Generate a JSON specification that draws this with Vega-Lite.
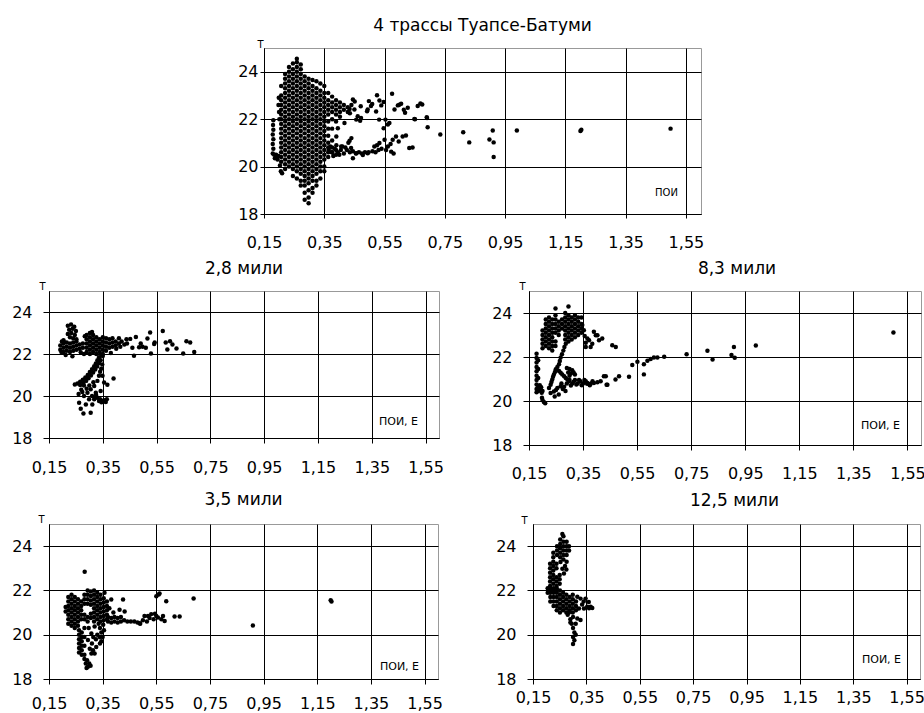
{
"$schema": "https://vega.github.io/schema/vega-lite/v6.json",
"padding": {"left": 11, "top": 16, "right": 0, "bottom": 0},
"background": "white",
"config": {
 "font": "DejaVu Sans",
 "view": {"stroke": "#999999", "strokeWidth": 1},
 "axis": {"labelFont": "DejaVu Sans", "labelFontSize": 16, "labelColor": "#000", "grid": true, "gridColor": "#000", "gridWidth": 1, "domainColor": "#000", "tickColor": "#000", "titleFont": "DejaVu Sans", "titleFontWeight": "normal", "titleColor": "#000", "labelOverlap": false, "labelFlush": false},
 "title": {"font": "DejaVu Sans", "fontSize": 17, "fontWeight": "normal", "color": "#000", "anchor": "middle", "baseline": "alphabetic", "offset": 3},
 "circle": {"size": 20, "color": "#000", "opacity": 1}
},
"datasets": {
"top": [
{"x":0.179,"y":20.55},{"x":0.181,"y":20.75},{"x":0.179,"y":20.95},{"x":0.181,"y":21.15},{"x":0.179,"y":21.35},{"x":0.181,"y":21.55},{"x":0.18,"y":21.75},{"x":0.181,"y":21.95},
{"x":0.186,"y":20.35},{"x":0.19,"y":20.5},{"x":0.195,"y":20.3},{"x":0.192,"y":20.42},{"x":0.198,"y":20.45},{"x":0.184,"y":20.5},
{"x":0.203,"y":20.05},{"x":0.206,"y":19.8},{"x":0.21,"y":19.72},{"x":0.199,"y":22.9},{"x":0.198,"y":22.6},{"x":0.2,"y":22.3},{"x":0.201,"y":22.0},
{"x":0.207,"y":23.4},{"x":0.207,"y":23.0},{"x":0.207,"y":22.8},{"x":0.207,"y":22.6},{"x":0.207,"y":22.4},{"x":0.207,"y":22.2},{"x":0.207,"y":22.0},{"x":0.207,"y":21.8},{"x":0.207,"y":21.6},{"x":0.207,"y":21.4},{"x":0.207,"y":21.2},{"x":0.207,"y":21.0},{"x":0.207,"y":20.8},{"x":0.207,"y":20.6},{"x":0.207,"y":20.4},{"x":0.207,"y":20.2},
{"x":0.22,"y":23.9},{"x":0.22,"y":23.7},{"x":0.22,"y":23.5},{"x":0.22,"y":23.3},{"x":0.22,"y":23.1},{"x":0.22,"y":22.9},{"x":0.22,"y":22.7},{"x":0.22,"y":22.5},{"x":0.22,"y":22.3},{"x":0.22,"y":22.1},{"x":0.22,"y":21.9},{"x":0.22,"y":21.7},{"x":0.22,"y":21.5},{"x":0.22,"y":21.3},{"x":0.22,"y":21.1},{"x":0.22,"y":20.9},{"x":0.22,"y":20.7},{"x":0.22,"y":20.5},{"x":0.22,"y":20.3},{"x":0.22,"y":20.1},{"x":0.22,"y":19.9},
{"x":0.233,"y":24.2},{"x":0.233,"y":24.0},{"x":0.233,"y":23.8},{"x":0.233,"y":23.6},{"x":0.233,"y":23.4},{"x":0.233,"y":23.2},{"x":0.233,"y":23.0},{"x":0.233,"y":22.8},{"x":0.233,"y":22.6},{"x":0.233,"y":22.4},{"x":0.233,"y":22.2},{"x":0.233,"y":22.0},{"x":0.233,"y":21.8},{"x":0.233,"y":21.6},{"x":0.233,"y":21.4},{"x":0.233,"y":21.2},{"x":0.233,"y":21.0},{"x":0.233,"y":20.8},{"x":0.233,"y":20.6},{"x":0.233,"y":20.4},{"x":0.233,"y":20.2},{"x":0.233,"y":20.0},
{"x":0.246,"y":24.35},{"x":0.246,"y":24.1},{"x":0.246,"y":23.9},{"x":0.246,"y":23.7},{"x":0.246,"y":23.5},{"x":0.246,"y":23.3},{"x":0.246,"y":23.1},{"x":0.246,"y":22.9},{"x":0.246,"y":22.7},{"x":0.246,"y":22.5},{"x":0.246,"y":22.3},{"x":0.246,"y":22.1},{"x":0.246,"y":21.9},{"x":0.246,"y":21.7},{"x":0.246,"y":21.5},{"x":0.246,"y":21.3},{"x":0.246,"y":21.1},{"x":0.246,"y":20.9},{"x":0.246,"y":20.7},{"x":0.246,"y":20.5},{"x":0.246,"y":20.3},{"x":0.246,"y":20.1},{"x":0.246,"y":19.9},{"x":0.246,"y":19.6},
{"x":0.259,"y":24.55},{"x":0.259,"y":24.4},{"x":0.259,"y":24.2},{"x":0.259,"y":24.0},{"x":0.259,"y":23.8},{"x":0.259,"y":23.6},{"x":0.259,"y":23.4},{"x":0.259,"y":23.2},{"x":0.259,"y":23.0},{"x":0.259,"y":22.8},{"x":0.259,"y":22.6},{"x":0.259,"y":22.4},{"x":0.259,"y":22.2},{"x":0.259,"y":22.0},{"x":0.259,"y":21.8},{"x":0.259,"y":21.6},{"x":0.259,"y":21.4},{"x":0.259,"y":21.2},{"x":0.259,"y":21.0},{"x":0.259,"y":20.8},{"x":0.259,"y":20.6},{"x":0.259,"y":20.4},{"x":0.259,"y":20.2},{"x":0.259,"y":20.0},{"x":0.259,"y":19.8},{"x":0.259,"y":19.5},
{"x":0.272,"y":24.3},{"x":0.272,"y":24.1},{"x":0.272,"y":23.9},{"x":0.272,"y":23.7},{"x":0.272,"y":23.5},{"x":0.272,"y":23.3},{"x":0.272,"y":23.1},{"x":0.272,"y":22.9},{"x":0.272,"y":22.7},{"x":0.272,"y":22.5},{"x":0.272,"y":22.3},{"x":0.272,"y":22.1},{"x":0.272,"y":21.9},{"x":0.272,"y":21.7},{"x":0.272,"y":21.5},{"x":0.272,"y":21.3},{"x":0.272,"y":21.1},{"x":0.272,"y":20.9},{"x":0.272,"y":20.7},{"x":0.272,"y":20.5},{"x":0.272,"y":20.3},{"x":0.272,"y":20.1},{"x":0.272,"y":19.9},{"x":0.272,"y":19.7},{"x":0.272,"y":19.4},{"x":0.272,"y":19.2},
{"x":0.285,"y":23.8},{"x":0.285,"y":23.6},{"x":0.285,"y":23.4},{"x":0.285,"y":23.2},{"x":0.285,"y":23.0},{"x":0.285,"y":22.8},{"x":0.285,"y":22.6},{"x":0.285,"y":22.4},{"x":0.285,"y":22.2},{"x":0.285,"y":22.0},{"x":0.285,"y":21.8},{"x":0.285,"y":21.6},{"x":0.285,"y":21.4},{"x":0.285,"y":21.2},{"x":0.285,"y":21.0},{"x":0.285,"y":20.8},{"x":0.285,"y":20.6},{"x":0.285,"y":20.4},{"x":0.285,"y":20.2},{"x":0.285,"y":20.0},{"x":0.285,"y":19.8},{"x":0.285,"y":19.6},{"x":0.285,"y":19.4},{"x":0.285,"y":19.2},{"x":0.285,"y":18.9},{"x":0.285,"y":18.6},
{"x":0.298,"y":23.7},{"x":0.298,"y":23.5},{"x":0.298,"y":23.3},{"x":0.298,"y":23.1},{"x":0.298,"y":22.9},{"x":0.298,"y":22.7},{"x":0.298,"y":22.5},{"x":0.298,"y":22.3},{"x":0.298,"y":22.1},{"x":0.298,"y":21.9},{"x":0.298,"y":21.7},{"x":0.298,"y":21.5},{"x":0.298,"y":21.3},{"x":0.298,"y":21.1},{"x":0.298,"y":20.9},{"x":0.298,"y":20.7},{"x":0.298,"y":20.5},{"x":0.298,"y":20.3},{"x":0.298,"y":20.1},{"x":0.298,"y":19.9},{"x":0.298,"y":19.7},{"x":0.298,"y":19.5},{"x":0.298,"y":19.3},{"x":0.298,"y":19.0},{"x":0.298,"y":18.7},{"x":0.298,"y":18.45},
{"x":0.311,"y":23.65},{"x":0.311,"y":23.4},{"x":0.311,"y":23.2},{"x":0.311,"y":23.0},{"x":0.311,"y":22.8},{"x":0.311,"y":22.6},{"x":0.311,"y":22.4},{"x":0.311,"y":22.2},{"x":0.311,"y":22.0},{"x":0.311,"y":21.8},{"x":0.311,"y":21.6},{"x":0.311,"y":21.4},{"x":0.311,"y":21.2},{"x":0.311,"y":21.0},{"x":0.311,"y":20.8},{"x":0.311,"y":20.6},{"x":0.311,"y":20.4},{"x":0.311,"y":20.2},{"x":0.311,"y":20.0},{"x":0.311,"y":19.8},{"x":0.311,"y":19.6},{"x":0.311,"y":19.4},{"x":0.311,"y":19.1},{"x":0.311,"y":18.9},
{"x":0.324,"y":23.6},{"x":0.324,"y":23.3},{"x":0.324,"y":23.1},{"x":0.324,"y":22.9},{"x":0.324,"y":22.7},{"x":0.324,"y":22.5},{"x":0.324,"y":22.3},{"x":0.324,"y":22.1},{"x":0.324,"y":21.9},{"x":0.324,"y":21.7},{"x":0.324,"y":21.5},{"x":0.324,"y":21.3},{"x":0.324,"y":21.1},{"x":0.324,"y":20.9},{"x":0.324,"y":20.7},{"x":0.324,"y":20.5},{"x":0.324,"y":20.3},{"x":0.324,"y":20.1},{"x":0.324,"y":19.9},{"x":0.324,"y":19.7},{"x":0.324,"y":19.4},{"x":0.324,"y":19.2},
{"x":0.337,"y":23.5},{"x":0.337,"y":23.2},{"x":0.337,"y":23.0},{"x":0.337,"y":22.8},{"x":0.337,"y":22.6},{"x":0.337,"y":22.4},{"x":0.337,"y":22.2},{"x":0.337,"y":22.0},{"x":0.337,"y":21.8},{"x":0.337,"y":21.6},{"x":0.337,"y":21.4},{"x":0.337,"y":21.2},{"x":0.337,"y":21.0},{"x":0.337,"y":20.8},{"x":0.337,"y":20.6},{"x":0.337,"y":20.4},{"x":0.337,"y":20.2},{"x":0.337,"y":20.0},{"x":0.337,"y":19.8},{"x":0.337,"y":19.5},
{"x":0.35,"y":23.4},{"x":0.35,"y":23.1},{"x":0.35,"y":22.9},{"x":0.35,"y":22.7},{"x":0.35,"y":22.5},{"x":0.35,"y":22.3},{"x":0.35,"y":22.1},{"x":0.35,"y":21.9},{"x":0.35,"y":21.7},{"x":0.35,"y":21.5},{"x":0.35,"y":21.3},{"x":0.35,"y":21.1},{"x":0.35,"y":20.9},{"x":0.35,"y":20.7},{"x":0.35,"y":20.5},{"x":0.35,"y":20.3},{"x":0.35,"y":20.0},{"x":0.35,"y":19.8},
{"x":0.363,"y":23.1},{"x":0.363,"y":22.8},{"x":0.363,"y":22.6},{"x":0.363,"y":22.4},{"x":0.363,"y":22.2},{"x":0.363,"y":21.9},{"x":0.363,"y":21.6},{"x":0.363,"y":21.3},{"x":0.363,"y":21.0},{"x":0.363,"y":20.8},{"x":0.363,"y":20.6},{"x":0.363,"y":20.4},
{"x":0.376,"y":22.95},{"x":0.376,"y":22.7},{"x":0.376,"y":22.5},{"x":0.376,"y":22.3},{"x":0.376,"y":22.0},{"x":0.376,"y":21.6},{"x":0.376,"y":21.1},{"x":0.376,"y":20.8},{"x":0.376,"y":20.6},
{"x":0.389,"y":22.8},{"x":0.389,"y":22.6},{"x":0.389,"y":22.4},{"x":0.389,"y":22.2},{"x":0.389,"y":21.9},{"x":0.389,"y":20.7},{"x":0.389,"y":20.5},
{"x":0.402,"y":22.7},{"x":0.402,"y":22.5},{"x":0.402,"y":22.3},{"x":0.402,"y":22.1},{"x":0.415,"y":22.6},{"x":0.415,"y":22.4},{"x":0.428,"y":22.5},{"x":0.428,"y":22.3},{"x":0.44,"y":22.6},{"x":0.435,"y":22.25},
{"x":0.445,"y":22.83},{"x":0.45,"y":22.41},{"x":0.461,"y":22.12},{"x":0.472,"y":22.05},{"x":0.494,"y":22.41},{"x":0.498,"y":22.76},{"x":0.505,"y":22.55},{"x":0.525,"y":23.01},{"x":0.533,"y":22.79},{"x":0.539,"y":22.58},{"x":0.547,"y":22.72},{"x":0.553,"y":21.98},{"x":0.575,"y":23.07},{"x":0.583,"y":22.41},{"x":0.594,"y":22.58},{"x":0.605,"y":22.65},{"x":0.618,"y":22.27},{"x":0.627,"y":22.48},{"x":0.649,"y":22.01},{"x":0.66,"y":22.55},{"x":0.669,"y":22.66},{"x":0.675,"y":22.62},{"x":0.691,"y":22.05},{"x":0.693,"y":21.66},{"x":0.735,"y":21.35},{"x":0.811,"y":21.45},{"x":0.831,"y":21.02},{"x":0.898,"y":21.14},{"x":0.909,"y":21.52},{"x":0.912,"y":21.02},{"x":0.912,"y":20.4},{"x":0.989,"y":21.52},{"x":1.2,"y":21.5},{"x":1.203,"y":21.55},{"x":1.499,"y":21.6},
{"x":0.451,"y":22.74},{"x":0.434,"y":22.43},{"x":0.471,"y":22.54},{"x":0.492,"y":22.33},{"x":0.509,"y":22.64},{"x":0.522,"y":22.32},{"x":0.532,"y":21.98},{"x":0.599,"y":22.61},{"x":0.614,"y":22.4},{"x":0.456,"y":21.98},{"x":0.469,"y":21.93},{"x":0.417,"y":21.84},{"x":0.395,"y":21.62},{"x":0.39,"y":21.27},{"x":0.434,"y":21.09},{"x":0.439,"y":20.78},{"x":0.406,"y":20.85},{"x":0.445,"y":20.35},
{"x":0.547,"y":21.62},{"x":0.561,"y":21.77},{"x":0.566,"y":21.84},{"x":0.55,"y":21.13},{"x":0.533,"y":20.99},{"x":0.561,"y":20.85},{"x":0.572,"y":20.63},{"x":0.577,"y":21.13},{"x":0.588,"y":21.27},{"x":0.597,"y":21.06},{"x":0.61,"y":21.27},{"x":0.621,"y":21.31},{"x":0.632,"y":20.78},{"x":0.643,"y":20.8},{"x":0.651,"y":22.0},{"x":0.69,"y":22.08},
{"x":0.365,"y":20.7},{"x":0.375,"y":20.6},{"x":0.385,"y":20.75},{"x":0.395,"y":20.6},{"x":0.405,"y":20.7},{"x":0.415,"y":20.55},{"x":0.425,"y":20.7},{"x":0.435,"y":20.6},{"x":0.445,"y":20.65},{"x":0.455,"y":20.55},{"x":0.465,"y":20.6},{"x":0.475,"y":20.55},{"x":0.485,"y":20.6},{"x":0.497,"y":20.6},{"x":0.51,"y":20.65},{"x":0.52,"y":20.6},{"x":0.53,"y":20.7},{"x":0.37,"y":20.85},{"x":0.39,"y":20.9},{"x":0.41,"y":20.85},{"x":0.38,"y":20.45},{"x":0.4,"y":20.5},{"x":0.42,"y":20.8},{"x":0.43,"y":21.0},{"x":0.44,"y":21.2},{"x":0.516,"y":20.85},{"x":0.456,"y":20.56},{"x":0.478,"y":20.49},{"x":0.494,"y":20.56},{"x":0.54,"y":20.75},{"x":0.555,"y":20.7},{"x":0.57,"y":20.95},{"x":0.58,"y":20.55},{"x":0.525,"y":20.9}
],
"p2": [
{"x":0.22,"y":23.35},{"x":0.232,"y":23.4},{"x":0.244,"y":23.3},{"x":0.225,"y":23.15},{"x":0.238,"y":23.2},{"x":0.25,"y":23.1},{"x":0.22,"y":22.95},{"x":0.233,"y":23.0},{"x":0.246,"y":22.9},{"x":0.228,"y":22.8},{"x":0.24,"y":22.75},{"x":0.252,"y":22.7},
{"x":0.196,"y":22.1},{"x":0.198,"y":22.6},{"x":0.192,"y":22.2},{"x":0.192,"y":22.4},{"x":0.204,"y":22.1},{"x":0.204,"y":22.3},{"x":0.204,"y":22.5},{"x":0.204,"y":22.65},{"x":0.216,"y":22.15},{"x":0.216,"y":22.35},{"x":0.216,"y":22.55},{"x":0.228,"y":22.1},{"x":0.228,"y":22.3},{"x":0.228,"y":22.5},{"x":0.24,"y":22.15},{"x":0.24,"y":22.35},{"x":0.24,"y":22.55},{"x":0.252,"y":22.2},{"x":0.252,"y":22.4},{"x":0.252,"y":22.6},{"x":0.264,"y":22.25},{"x":0.264,"y":22.45},{"x":0.276,"y":22.3},{"x":0.276,"y":22.5},{"x":0.237,"y":21.89},{"x":0.212,"y":21.95},{"x":0.268,"y":22.08},
{"x":0.29,"y":22.1},{"x":0.29,"y":22.3},{"x":0.29,"y":22.5},{"x":0.29,"y":22.7},{"x":0.29,"y":22.9},{"x":0.302,"y":22.0},{"x":0.302,"y":22.2},{"x":0.302,"y":22.4},{"x":0.302,"y":22.6},{"x":0.302,"y":22.8},{"x":0.302,"y":23.0},{"x":0.314,"y":22.1},{"x":0.314,"y":22.3},{"x":0.314,"y":22.5},{"x":0.314,"y":22.7},{"x":0.314,"y":22.9},{"x":0.326,"y":22.0},{"x":0.326,"y":22.2},{"x":0.326,"y":22.4},{"x":0.326,"y":22.6},{"x":0.326,"y":22.8},{"x":0.338,"y":22.1},{"x":0.338,"y":22.3},{"x":0.338,"y":22.5},{"x":0.338,"y":22.7},{"x":0.35,"y":22.0},{"x":0.35,"y":22.2},{"x":0.35,"y":22.4},{"x":0.35,"y":22.6},{"x":0.35,"y":22.8},{"x":0.362,"y":22.15},{"x":0.362,"y":22.35},{"x":0.362,"y":22.55},{"x":0.362,"y":22.75},{"x":0.374,"y":22.3},{"x":0.374,"y":22.5},{"x":0.374,"y":22.7},{"x":0.386,"y":22.35},{"x":0.386,"y":22.55},{"x":0.386,"y":22.75},{"x":0.398,"y":22.4},{"x":0.398,"y":22.6},{"x":0.41,"y":22.5},{"x":0.41,"y":22.75},
{"x":0.42,"y":22.6},{"x":0.43,"y":22.45},{"x":0.438,"y":22.7},{"x":0.28,"y":22.0},{"x":0.283,"y":22.85},{"x":0.31,"y":23.05},{"x":0.35,"y":21.9},{"x":0.38,"y":22.05},{"x":0.4,"y":22.25},{"x":0.415,"y":22.35},
{"x":0.336,"y":21.84},{"x":0.33,"y":21.7},{"x":0.324,"y":21.55},{"x":0.318,"y":21.42},{"x":0.31,"y":21.28},{"x":0.302,"y":21.14},{"x":0.294,"y":21.0},{"x":0.285,"y":20.88},{"x":0.276,"y":20.78},{"x":0.266,"y":20.68},{"x":0.256,"y":20.6},{"x":0.246,"y":20.55},{"x":0.342,"y":21.7},{"x":0.336,"y":21.56},{"x":0.329,"y":21.4},{"x":0.322,"y":21.26},{"x":0.314,"y":21.12},{"x":0.306,"y":20.98},{"x":0.297,"y":20.85},{"x":0.288,"y":20.72},{"x":0.278,"y":20.62},{"x":0.266,"y":20.52},{"x":0.345,"y":21.95},{"x":0.348,"y":21.5},{"x":0.344,"y":21.3},{"x":0.34,"y":21.15},
{"x":0.336,"y":20.96},{"x":0.349,"y":20.96},{"x":0.39,"y":20.83},{"x":0.367,"y":20.54},{"x":0.318,"y":20.48},{"x":0.305,"y":20.32},{"x":0.293,"y":20.16},{"x":0.274,"y":20.19},{"x":0.28,"y":20.0},{"x":0.299,"y":19.84},{"x":0.318,"y":19.84},{"x":0.336,"y":19.76},{"x":0.349,"y":19.76},{"x":0.361,"y":19.71},{"x":0.33,"y":19.92},{"x":0.311,"y":19.6},{"x":0.287,"y":19.6},{"x":0.305,"y":19.2},{"x":0.278,"y":19.17},{"x":0.268,"y":19.39},{"x":0.262,"y":19.68},{"x":0.324,"y":20.16},{"x":0.342,"y":20.24},{"x":0.355,"y":20.64},{"x":0.33,"y":20.72},{"x":0.32,"y":19.9},{"x":0.34,"y":19.85},{"x":0.355,"y":19.8},{"x":0.365,"y":19.85},{"x":0.345,"y":19.7},{"x":0.325,"y":20.05},{"x":0.31,"y":20.0},{"x":0.3,"y":20.5},{"x":0.315,"y":20.65},{"x":0.29,"y":20.35},{"x":0.28,"y":20.5},{"x":0.27,"y":20.3},{"x":0.26,"y":20.1},
{"x":0.44,"y":22.5},{"x":0.452,"y":22.72},{"x":0.46,"y":22.3},{"x":0.466,"y":21.92},{"x":0.473,"y":22.81},{"x":0.485,"y":22.32},{"x":0.491,"y":22.5},{"x":0.498,"y":22.34},{"x":0.51,"y":22.3},{"x":0.516,"y":22.74},{"x":0.526,"y":23.02},{"x":0.529,"y":22.02},{"x":0.541,"y":22.48},{"x":0.543,"y":22.55},{"x":0.573,"y":23.09},{"x":0.584,"y":22.55},{"x":0.59,"y":22.21},{"x":0.6,"y":22.61},{"x":0.609,"y":22.45},{"x":0.624,"y":22.26},{"x":0.649,"y":22.02},{"x":0.661,"y":22.61},{"x":0.675,"y":22.55},{"x":0.69,"y":22.1}
],
"p3": [
{"x":0.178,"y":22.15},{"x":0.178,"y":21.95},{"x":0.178,"y":21.75},{"x":0.178,"y":21.55},{"x":0.178,"y":21.35},{"x":0.178,"y":21.15},{"x":0.178,"y":20.95},{"x":0.178,"y":20.75},{"x":0.178,"y":20.55},{"x":0.178,"y":20.4},{"x":0.184,"y":21.85},{"x":0.184,"y":21.45},{"x":0.184,"y":21.05},{"x":0.184,"y":20.65},{"x":0.184,"y":20.45},
{"x":0.19,"y":20.5},{"x":0.195,"y":20.62},{"x":0.2,"y":20.45},{"x":0.19,"y":20.72},{"x":0.197,"y":20.38},{"x":0.2,"y":20.05},{"x":0.205,"y":19.95},{"x":0.21,"y":19.9},{"x":0.198,"y":20.15},
{"x":0.2,"y":22.4},{"x":0.2,"y":22.6},{"x":0.2,"y":22.8},{"x":0.2,"y":23.0},{"x":0.2,"y":23.2},
{"x":0.212,"y":22.5},{"x":0.212,"y":22.7},{"x":0.212,"y":22.9},{"x":0.212,"y":23.1},{"x":0.212,"y":23.3},{"x":0.212,"y":23.5},{"x":0.212,"y":23.7},
{"x":0.224,"y":22.4},{"x":0.224,"y":22.6},{"x":0.224,"y":22.8},{"x":0.224,"y":23.0},{"x":0.224,"y":23.2},{"x":0.224,"y":23.4},{"x":0.224,"y":23.6},{"x":0.224,"y":23.8},
{"x":0.236,"y":22.3},{"x":0.236,"y":22.5},{"x":0.236,"y":22.7},{"x":0.236,"y":22.9},{"x":0.236,"y":23.1},{"x":0.236,"y":23.3},{"x":0.236,"y":23.5},{"x":0.236,"y":23.7},
{"x":0.248,"y":22.5},{"x":0.248,"y":22.7},{"x":0.248,"y":23.1},{"x":0.248,"y":23.3},{"x":0.248,"y":23.5},{"x":0.248,"y":23.7},{"x":0.248,"y":23.9},{"x":0.248,"y":24.2},
{"x":0.26,"y":23.0},{"x":0.26,"y":23.2},{"x":0.26,"y":23.4},{"x":0.26,"y":23.6},{"x":0.272,"y":23.3},{"x":0.272,"y":23.5},{"x":0.272,"y":23.7},
{"x":0.284,"y":22.8},{"x":0.284,"y":23.0},{"x":0.284,"y":23.2},{"x":0.284,"y":23.4},{"x":0.284,"y":23.6},{"x":0.284,"y":23.8},{"x":0.284,"y":24.0},
{"x":0.296,"y":22.7},{"x":0.296,"y":22.9},{"x":0.296,"y":23.1},{"x":0.296,"y":23.3},{"x":0.296,"y":23.5},{"x":0.296,"y":23.7},{"x":0.296,"y":23.9},{"x":0.296,"y":24.3},
{"x":0.308,"y":22.8},{"x":0.308,"y":23.0},{"x":0.308,"y":23.2},{"x":0.308,"y":23.4},{"x":0.308,"y":23.6},{"x":0.308,"y":23.8},
{"x":0.32,"y":22.9},{"x":0.32,"y":23.1},{"x":0.32,"y":23.3},{"x":0.32,"y":23.5},{"x":0.32,"y":23.7},{"x":0.32,"y":23.9},
{"x":0.332,"y":23.0},{"x":0.332,"y":23.2},{"x":0.332,"y":23.4},{"x":0.332,"y":23.6},{"x":0.332,"y":23.8},
{"x":0.344,"y":23.1},{"x":0.344,"y":23.3},{"x":0.344,"y":23.5},{"x":0.344,"y":23.8},
{"x":0.347,"y":23.46},{"x":0.353,"y":23.22},{"x":0.36,"y":22.45},{"x":0.372,"y":22.76},{"x":0.378,"y":22.45},{"x":0.39,"y":23.15},{"x":0.397,"y":22.99},{"x":0.409,"y":22.76},{"x":0.421,"y":22.84},{"x":0.458,"y":22.53},{"x":0.471,"y":22.45},{"x":0.384,"y":22.6},{"x":0.366,"y":22.84},{"x":0.403,"y":22.99},{"x":0.356,"y":22.95},{"x":0.36,"y":22.65},
{"x":0.286,"y":22.6},{"x":0.281,"y":22.45},{"x":0.277,"y":22.29},{"x":0.272,"y":22.13},{"x":0.267,"y":21.98},{"x":0.264,"y":21.82},{"x":0.261,"y":21.67},{"x":0.255,"y":21.55},{"x":0.249,"y":21.44},{"x":0.246,"y":21.32},{"x":0.242,"y":21.21},{"x":0.239,"y":21.1},{"x":0.236,"y":20.98},{"x":0.233,"y":20.86},{"x":0.23,"y":20.74},{"x":0.261,"y":21.36},{"x":0.267,"y":21.28},{"x":0.273,"y":21.21},{"x":0.28,"y":21.13},{"x":0.286,"y":21.05},{"x":0.292,"y":20.98},{"x":0.298,"y":20.9},
{"x":0.29,"y":21.5},{"x":0.3,"y":21.45},{"x":0.31,"y":21.4},{"x":0.295,"y":21.3},{"x":0.305,"y":21.25},{"x":0.315,"y":21.3},{"x":0.3,"y":21.15},{"x":0.32,"y":21.2},
{"x":0.3,"y":20.95},{"x":0.31,"y":20.8},{"x":0.32,"y":20.95},{"x":0.33,"y":20.8},{"x":0.34,"y":20.9},{"x":0.35,"y":20.8},{"x":0.36,"y":20.9},{"x":0.305,"y":20.7},{"x":0.325,"y":20.75},{"x":0.345,"y":20.72},{"x":0.365,"y":20.78},{"x":0.29,"y":20.8},{"x":0.315,"y":20.88},{"x":0.335,"y":20.95},{"x":0.355,"y":20.95},
{"x":0.366,"y":20.82},{"x":0.378,"y":20.79},{"x":0.39,"y":20.82},{"x":0.403,"y":20.85},{"x":0.415,"y":20.9},{"x":0.427,"y":21.13},{"x":0.437,"y":20.74},{"x":0.375,"y":20.72},{"x":0.385,"y":20.9},
{"x":0.224,"y":20.59},{"x":0.23,"y":20.36},{"x":0.242,"y":20.43},{"x":0.255,"y":20.59},{"x":0.267,"y":20.67},{"x":0.25,"y":20.5},{"x":0.26,"y":20.3},{"x":0.275,"y":20.55},{"x":0.285,"y":20.45},{"x":0.245,"y":20.2},{"x":0.27,"y":20.8},{"x":0.28,"y":20.65},
{"x":0.434,"y":21.13},{"x":0.44,"y":20.74},{"x":0.47,"y":20.98},{"x":0.483,"y":21.13},{"x":0.52,"y":21.1},{"x":0.532,"y":21.64},{"x":0.551,"y":21.78},{"x":0.575,"y":21.67},{"x":0.575,"y":21.21},{"x":0.588,"y":21.83},{"x":0.6,"y":21.91},{"x":0.612,"y":21.98},{"x":0.625,"y":21.98},{"x":0.65,"y":22.01},{"x":0.733,"y":22.13},{"x":0.81,"y":22.28},{"x":0.829,"y":21.89},{"x":0.899,"y":22.09},{"x":0.908,"y":22.45},{"x":0.911,"y":21.97},{"x":0.989,"y":22.52},{"x":1.498,"y":23.11}
],
"p4": [
{"x":0.283,"y":22.84},
{"x":0.212,"y":21.25},{"x":0.212,"y":21.05},
{"x":0.222,"y":21.7},{"x":0.222,"y":21.5},{"x":0.222,"y":21.3},{"x":0.222,"y":21.1},{"x":0.222,"y":20.9},{"x":0.222,"y":20.7},{"x":0.222,"y":20.5},
{"x":0.234,"y":21.8},{"x":0.234,"y":21.6},{"x":0.234,"y":21.4},{"x":0.234,"y":21.2},{"x":0.234,"y":21.0},{"x":0.234,"y":20.8},{"x":0.234,"y":20.6},{"x":0.234,"y":20.4},
{"x":0.246,"y":21.7},{"x":0.246,"y":21.5},{"x":0.246,"y":21.3},{"x":0.246,"y":21.1},{"x":0.246,"y":20.9},{"x":0.246,"y":20.7},{"x":0.246,"y":20.5},{"x":0.246,"y":20.3},
{"x":0.258,"y":21.6},{"x":0.258,"y":21.4},{"x":0.258,"y":21.2},{"x":0.258,"y":21.0},{"x":0.258,"y":20.8},{"x":0.258,"y":20.6},{"x":0.258,"y":20.4},
{"x":0.27,"y":21.5},{"x":0.27,"y":21.3},{"x":0.27,"y":21.1},{"x":0.27,"y":20.9},{"x":0.27,"y":20.7},
{"x":0.282,"y":21.8},{"x":0.282,"y":21.6},{"x":0.282,"y":21.4},{"x":0.282,"y":20.9},{"x":0.282,"y":20.7},
{"x":0.294,"y":22.0},{"x":0.294,"y":21.8},{"x":0.294,"y":21.6},{"x":0.294,"y":21.4},{"x":0.294,"y":20.8},{"x":0.294,"y":20.6},
{"x":0.306,"y":21.95},{"x":0.306,"y":21.75},{"x":0.306,"y":21.55},{"x":0.306,"y":21.35},{"x":0.306,"y":20.95},{"x":0.306,"y":20.75},
{"x":0.318,"y":22.0},{"x":0.318,"y":21.8},{"x":0.318,"y":21.6},{"x":0.318,"y":21.4},{"x":0.318,"y":21.2},{"x":0.318,"y":21.0},{"x":0.318,"y":20.8},{"x":0.318,"y":20.6},
{"x":0.33,"y":21.9},{"x":0.33,"y":21.7},{"x":0.33,"y":21.5},{"x":0.33,"y":21.3},{"x":0.33,"y":21.1},{"x":0.33,"y":20.9},{"x":0.33,"y":20.7},
{"x":0.342,"y":21.8},{"x":0.342,"y":21.6},{"x":0.342,"y":21.4},{"x":0.342,"y":21.2},{"x":0.342,"y":21.0},{"x":0.342,"y":20.8},{"x":0.342,"y":20.6},
{"x":0.354,"y":21.65},{"x":0.354,"y":21.45},{"x":0.354,"y":21.25},{"x":0.354,"y":21.05},{"x":0.354,"y":20.85},{"x":0.354,"y":20.65},
{"x":0.366,"y":21.5},{"x":0.366,"y":21.3},{"x":0.366,"y":21.1},{"x":0.366,"y":20.9},{"x":0.366,"y":20.7},
{"x":0.357,"y":21.9},{"x":0.382,"y":21.59},{"x":0.426,"y":21.59},{"x":0.413,"y":21.13},{"x":0.432,"y":21.05},{"x":0.375,"y":21.2},{"x":0.39,"y":21.0},
{"x":0.262,"y":20.2},{"x":0.262,"y":20.0},{"x":0.262,"y":19.8},{"x":0.262,"y":19.6},{"x":0.262,"y":19.4},{"x":0.262,"y":19.2},{"x":0.272,"y":20.1},{"x":0.272,"y":19.9},{"x":0.272,"y":19.7},{"x":0.272,"y":19.5},{"x":0.272,"y":19.3},{"x":0.272,"y":19.1},{"x":0.282,"y":20.3},{"x":0.282,"y":19.9},{"x":0.282,"y":19.5},{"x":0.282,"y":19.1},{"x":0.282,"y":18.9},
{"x":0.287,"y":18.7},{"x":0.295,"y":18.55},{"x":0.3,"y":18.7},{"x":0.29,"y":18.5},{"x":0.305,"y":18.6},{"x":0.292,"y":18.85},
{"x":0.335,"y":20.5},{"x":0.34,"y":20.3},{"x":0.345,"y":20.1},{"x":0.35,"y":19.9},{"x":0.345,"y":19.7},{"x":0.355,"y":20.2},{"x":0.33,"y":20.0},{"x":0.325,"y":19.8},{"x":0.34,"y":19.6},{"x":0.352,"y":20.45},
{"x":0.308,"y":19.15},{"x":0.314,"y":19.3},{"x":0.326,"y":19.45},{"x":0.339,"y":19.9},{"x":0.295,"y":19.76},{"x":0.308,"y":20.06},{"x":0.32,"y":20.37},{"x":0.302,"y":19.37},{"x":0.32,"y":19.15},{"x":0.31,"y":19.6},{"x":0.298,"y":20.3},{"x":0.315,"y":19.9},
{"x":0.37,"y":20.6},{"x":0.37,"y":20.8},{"x":0.382,"y":20.55},{"x":0.382,"y":20.75},{"x":0.394,"y":20.6},{"x":0.394,"y":20.8},{"x":0.406,"y":20.55},{"x":0.406,"y":20.75},{"x":0.418,"y":20.6},{"x":0.418,"y":20.8},{"x":0.43,"y":20.65},{"x":0.442,"y":20.6},{"x":0.455,"y":20.6},{"x":0.468,"y":20.6},{"x":0.48,"y":20.55},{"x":0.49,"y":20.5},
{"x":0.488,"y":20.52},{"x":0.506,"y":20.85},{"x":0.519,"y":20.85},{"x":0.531,"y":20.93},{"x":0.55,"y":20.85},{"x":0.556,"y":20.78},{"x":0.569,"y":20.7},{"x":0.575,"y":20.85},{"x":0.581,"y":20.62},{"x":0.618,"y":20.82},{"x":0.637,"y":20.82},{"x":0.55,"y":21.74},{"x":0.559,"y":21.82},{"x":0.562,"y":21.86},{"x":0.587,"y":21.51},{"x":0.689,"y":21.64},{"x":0.91,"y":20.42},{"x":1.2,"y":21.56},{"x":1.203,"y":21.5},{"x":0.5,"y":20.65},{"x":0.515,"y":20.6},{"x":0.525,"y":20.75},{"x":0.54,"y":20.7},{"x":0.545,"y":20.95}
],
"p5": [
{"x":0.24,"y":23.6},{"x":0.24,"y":23.8},{"x":0.24,"y":24.0},{"x":0.252,"y":23.5},{"x":0.252,"y":23.7},{"x":0.252,"y":23.9},{"x":0.252,"y":24.1},{"x":0.252,"y":24.3},{"x":0.264,"y":23.4},{"x":0.264,"y":23.6},{"x":0.264,"y":23.8},{"x":0.264,"y":24.0},{"x":0.264,"y":24.2},{"x":0.264,"y":24.45},{"x":0.276,"y":23.3},{"x":0.276,"y":23.6},{"x":0.276,"y":23.8},{"x":0.276,"y":24.0},{"x":0.276,"y":24.2},{"x":0.285,"y":23.8},{"x":0.285,"y":24.0},{"x":0.27,"y":23.1},{"x":0.275,"y":22.95},{"x":0.26,"y":24.55},
{"x":0.214,"y":22.2},{"x":0.214,"y":22.4},{"x":0.214,"y":22.6},{"x":0.214,"y":22.8},{"x":0.214,"y":23.0},{"x":0.214,"y":23.2},{"x":0.226,"y":22.3},{"x":0.226,"y":22.5},{"x":0.226,"y":22.7},{"x":0.226,"y":22.9},{"x":0.226,"y":23.1},{"x":0.226,"y":23.3},{"x":0.226,"y":23.5},{"x":0.226,"y":23.7},{"x":0.238,"y":22.2},{"x":0.238,"y":22.4},{"x":0.238,"y":22.6},{"x":0.238,"y":23.0},{"x":0.238,"y":23.2},{"x":0.25,"y":22.3},{"x":0.25,"y":22.5},{"x":0.25,"y":22.7},{"x":0.266,"y":22.76},{"x":0.26,"y":22.98},{"x":0.253,"y":23.28},
{"x":0.205,"y":21.9},{"x":0.205,"y":22.1},{"x":0.215,"y":21.5},{"x":0.215,"y":21.7},{"x":0.215,"y":21.9},{"x":0.215,"y":22.1},{"x":0.227,"y":21.3},{"x":0.227,"y":21.5},{"x":0.227,"y":21.7},{"x":0.227,"y":21.9},{"x":0.227,"y":22.1},{"x":0.239,"y":21.1},{"x":0.239,"y":21.3},{"x":0.239,"y":21.5},{"x":0.239,"y":21.7},{"x":0.239,"y":21.9},{"x":0.239,"y":22.1},{"x":0.251,"y":21.0},{"x":0.251,"y":21.2},{"x":0.251,"y":21.4},{"x":0.251,"y":21.6},{"x":0.251,"y":21.8},{"x":0.251,"y":22.0},{"x":0.263,"y":21.1},{"x":0.263,"y":21.3},{"x":0.263,"y":21.5},{"x":0.263,"y":21.7},{"x":0.263,"y":21.9},{"x":0.275,"y":21.0},{"x":0.275,"y":21.2},{"x":0.275,"y":21.4},{"x":0.275,"y":21.6},{"x":0.275,"y":21.8},{"x":0.287,"y":21.1},{"x":0.287,"y":21.3},{"x":0.287,"y":21.5},{"x":0.287,"y":21.7},{"x":0.299,"y":21.0},{"x":0.299,"y":21.2},{"x":0.299,"y":21.4},{"x":0.299,"y":21.6},{"x":0.299,"y":21.8},{"x":0.311,"y":21.1},{"x":0.311,"y":21.3},{"x":0.311,"y":21.5},
{"x":0.316,"y":21.71},{"x":0.328,"y":21.63},{"x":0.347,"y":21.63},{"x":0.353,"y":21.26},{"x":0.366,"y":21.26},{"x":0.359,"y":21.48},{"x":0.334,"y":21.36},{"x":0.322,"y":21.18},{"x":0.341,"y":21.18},{"x":0.372,"y":21.21},{"x":0.36,"y":21.2},{"x":0.34,"y":21.5},
{"x":0.28,"y":20.9},{"x":0.29,"y":20.7},{"x":0.3,"y":20.8},{"x":0.295,"y":20.5},{"x":0.3,"y":20.3},{"x":0.305,"y":20.1},{"x":0.3,"y":19.9},{"x":0.305,"y":19.75},{"x":0.3,"y":19.58},{"x":0.31,"y":20.0},{"x":0.29,"y":20.55},{"x":0.31,"y":20.5},{"x":0.316,"y":20.73},{"x":0.328,"y":20.66},{"x":0.285,"y":21.0}
]
},
"vconcat": [
 {"hconcat": [
  {"width": 168, "height": 10, "data": {"values": []}, "mark": {"type": "circle"}, "view": {"stroke": null}},
  {"title": {"text": "4 трассы Туапсе-Батуми", "offset": 4},
   "width": 437, "height": 166,
   "data": {"name": "top"},
   "mark": {"type": "circle"},
   "encoding": {
    "x": {"field": "x", "type": "quantitative", "scale": {"domain": [0.15, 1.6], "nice": false, "zero": false},
          "axis": {"values": [0.15,0.35,0.55,0.75,0.95,1.15,1.35,1.55], "labelExpr": "replace(format(datum.value, '.2f'), '.', ',')", "tickSize": 4, "labelPadding": 16, "title": "ПОИ", "titleFontSize": 10, "titleX": 402, "titleY": -19, "titleAlign": "center", "titleBaseline": "alphabetic"}},
    "y": {"field": "y", "type": "quantitative", "scale": {"domain": [18, 25], "nice": false, "zero": false},
          "axis": {"values": [18,20,22,24], "tickSize": 4, "labelPadding": 2, "title": "Т", "titleFontSize": 10, "titleAngle": 0, "titleX": -4, "titleY": -1, "titleAlign": "center", "titleBaseline": "alphabetic"}}
   }}
 ], "spacing": 20},
 {"hconcat": [
  {"title": {"text": "2,8 мили"},
   "width": 390, "height": 147,
   "data": {"name": "p2"},
   "mark": {"type": "circle"},
   "encoding": {
    "x": {"field": "x", "type": "quantitative", "scale": {"domain": [0.15, 1.6], "nice": false, "zero": false},
          "axis": {"values": [0.15,0.35,0.55,0.75,0.95,1.15,1.35,1.55], "labelExpr": "replace(format(datum.value, '.2f'), '.', ',')", "tickSize": 5, "labelPadding": 16, "title": "ПОИ, Е", "titleFontSize": 11, "titleX": 349, "titleY": -14, "titleAlign": "center", "titleBaseline": "alphabetic"}},
    "y": {"field": "y", "type": "quantitative", "scale": {"domain": [18, 25], "nice": false, "zero": false},
          "axis": {"values": [18,20,22,24], "tickSize": 6, "labelPadding": 11, "title": "Т", "titleFontSize": 10, "titleAngle": 0, "titleX": -7, "titleY": -2, "titleAlign": "center", "titleBaseline": "alphabetic"}}
   }},
  {"title": {"text": "8,3 мили", "dx": 12},
   "width": 392, "height": 154,
   "data": {"name": "p3"},
   "mark": {"type": "circle"},
   "encoding": {
    "x": {"field": "x", "type": "quantitative", "scale": {"domain": [0.15, 1.6], "nice": false, "zero": false},
          "axis": {"values": [0.15,0.35,0.55,0.75,0.95,1.15,1.35,1.55], "labelExpr": "replace(format(datum.value, '.2f'), '.', ',')", "tickSize": 5, "labelPadding": 15, "title": "ПОИ, Е", "titleFontSize": 11, "titleX": 351, "titleY": -17, "titleAlign": "center", "titleBaseline": "alphabetic"}},
    "y": {"field": "y", "type": "quantitative", "scale": {"domain": [18, 25], "nice": false, "zero": false},
          "axis": {"values": [18,20,22,24], "tickSize": 6, "labelPadding": 11, "title": "Т", "titleFontSize": 10, "titleAngle": 0, "titleX": -7, "titleY": -2, "titleAlign": "center", "titleBaseline": "alphabetic"}}
   }}
 ], "spacing": 47},
 {"hconcat": [
  {"title": {"text": "3,5 мили", "offset": 5},
   "width": 389, "height": 155,
   "data": {"name": "p4"},
   "mark": {"type": "circle"},
   "encoding": {
    "x": {"field": "x", "type": "quantitative", "scale": {"domain": [0.15, 1.6], "nice": false, "zero": false},
          "axis": {"values": [0.15,0.35,0.55,0.75,0.95,1.15,1.35,1.55], "labelExpr": "replace(format(datum.value, '.2f'), '.', ',')", "tickSize": 5, "labelPadding": 11, "title": "ПОИ, Е", "titleFontSize": 11, "titleX": 350, "titleY": -10, "titleAlign": "center", "titleBaseline": "alphabetic"}},
    "y": {"field": "y", "type": "quantitative", "scale": {"domain": [18, 25], "nice": false, "zero": false},
          "axis": {"values": [18,20,22,24], "tickSize": 6, "labelPadding": 11, "title": "Т", "titleFontSize": 10, "titleAngle": 0, "titleX": -8, "titleY": -2, "titleAlign": "center", "titleBaseline": "alphabetic"}}
   }},
  {"title": {"text": "12,5 мили", "dx": 8, "offset": 5},
   "width": 387, "height": 155,
   "data": {"name": "p5"},
   "mark": {"type": "circle"},
   "encoding": {
    "x": {"field": "x", "type": "quantitative", "scale": {"domain": [0.15, 1.6], "nice": false, "zero": false},
          "axis": {"values": [0.15,0.35,0.55,0.75,0.95,1.15,1.35,1.55], "labelExpr": "replace(format(datum.value, '.2f'), '.', ',')", "tickSize": 5, "labelPadding": 5, "title": "ПОИ, Е", "titleFontSize": 11, "titleX": 348, "titleY": -17, "titleAlign": "center", "titleBaseline": "alphabetic"}},
    "y": {"field": "y", "type": "quantitative", "scale": {"domain": [18, 25], "nice": false, "zero": false},
          "axis": {"values": [18,20,22,24], "tickSize": 6, "labelPadding": 11, "title": "Т", "titleFontSize": 10, "titleAngle": 0, "titleX": -9, "titleY": -1, "titleAlign": "center", "titleBaseline": "alphabetic"}}
   }}
 ], "spacing": 52}
],
"spacing": 8
}
